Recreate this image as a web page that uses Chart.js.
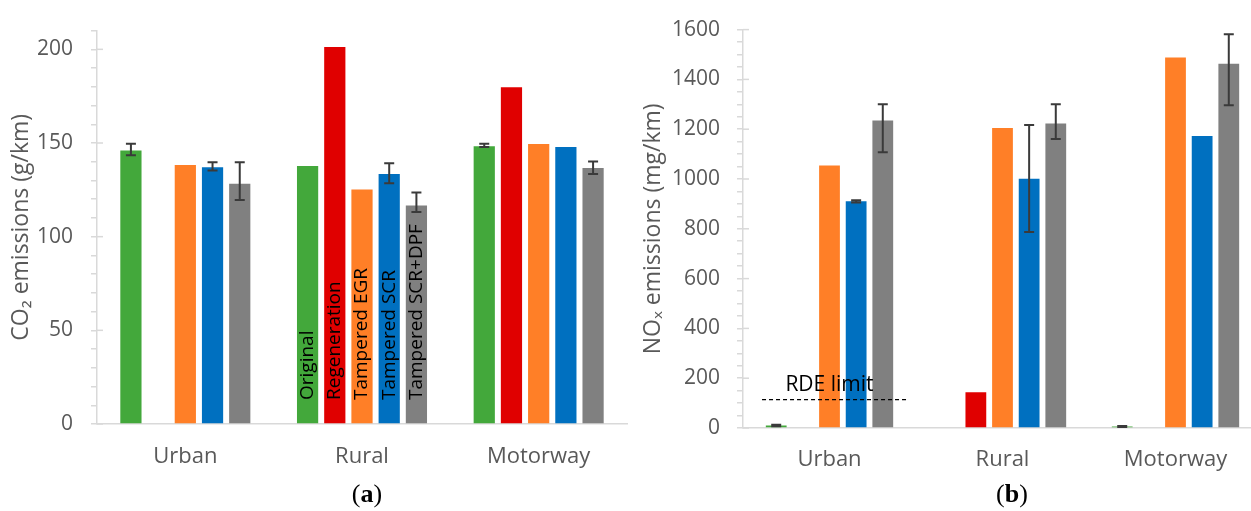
<!DOCTYPE html>
<html>
<head>
<meta charset="utf-8">
<script src="https://cdn.jsdelivr.net/npm/chart.js@4.4.1/dist/chart.umd.min.js"></script>
<style>
  html, body { margin: 0; padding: 0; background: #fff; overflow: hidden; width: 1251px; height: 511px; }
  .panel { position: absolute; top: 0; }
  .tag { position: absolute; top: 481px; font: 26px/26px "Liberation Serif", serif; color: #000; transform: translateX(-50%); }
</style>
</head>
<body>
<div class="panel" style="left:0"><canvas id="chart-co2" width="640" height="511" style="width:640px;height:511px"></canvas></div>
<div class="panel" style="left:640px"><canvas id="chart-nox" width="640" height="511" style="width:640px;height:511px"></canvas></div>
<div class="tag" style="left:367px">(<b>a</b>)</div>
<div class="tag" style="left:1012px">(<b>b</b>)</div>
<script>
//
// Data
//

var categories = ["Urban", "Rural", "Motorway"];
var seriesNames = ["Original", "Regeneration", "Tampered EGR", "Tampered SCR", "Tampered SCR+DPF"];

// CO2 (g/km)
var co2Original = [146, 137.7, 148.3];
var co2Regeneration = [null, 201.2, 179.7];
var co2EGR = [138.2, 125.2, 149.5];
var co2SCR = [137.1, 133.5, 147.8];
var co2SCRDPF = [128.3, 116.7, 136.6];

var co2OriginalLow = [143.4, null, 147.9];
var co2OriginalHigh = [149.6, null, 149.6];
var co2SCRLow = [135.3, 128.5, null];
var co2SCRHigh = [139.7, 139.2, null];
var co2SCRDPFLow = [119.6, 113.2, 133.5];
var co2SCRDPFHigh = [139.7, 123.6, 140.1];

var co2TickLabels = [0, 50, 100, 150, 200];

// NOx (mg/km)
var noxOriginal = [10, null, 6];
var noxRegeneration = [null, 144, null];
var noxEGR = [1054, 1205, 1488];
var noxSCR = [911, 1001, 1173];
var noxSCRDPF = [1235, 1223, 1463];

var noxOriginalLow = [7, null, 4];
var noxOriginalHigh = [13, null, 8];
var noxSCRLow = [906, 787, null];
var noxSCRHigh = [915, 1217, null];
var noxSCRDPFLow = [1107, 1161, 1296];
var noxSCRDPFHigh = [1300, 1300, 1581];

var noxTickLabels = [0, 200, 400, 600, 800, 1000, 1200, 1400, 1600];

var rdeLimit = 114;

//
// Styles
//

var seriesColors = ["#43a83b", "#e00000", "#ff7f27", "#0070c0", "#808080"];
var fontFamily = "'Open Sans', 'Noto Sans', sans-serif";
var axisGray = "#d9d9d9";
var textGray = "#595959";

//
// Plugins
//

// right-hand stubs on the major ticks
var majorTicks = {
  id: "majorTicks",
  beforeDatasetsDraw: function (chart, args, opts) {
    var y = chart.scales.y;
    var ctx = chart.ctx;
    ctx.save();
    ctx.strokeStyle = axisGray;
    ctx.lineWidth = 1.5;
    y.ticks.forEach(function (t) {
      if (opts.labels.indexOf(t.value) < 0) return;
      var py = y.getPixelForValue(t.value);
      ctx.beginPath();
      ctx.moveTo(y.right, py);
      ctx.lineTo(y.right + 6, py);
      ctx.stroke();
    });
    ctx.restore();
  }
};

// error bars from errLow / errHigh on the dataset
var errorBars = {
  id: "errorBars",
  afterDatasetsDraw: function (chart) {
    var y = chart.scales.y;
    var ctx = chart.ctx;
    ctx.save();
    ctx.strokeStyle = "#3a3a3a";
    ctx.lineWidth = 2;
    chart.data.datasets.forEach(function (ds, i) {
      if (!ds.errLow) return;
      var meta = chart.getDatasetMeta(i);
      ds.errLow.forEach(function (lo, j) {
        if (lo == null) return;
        var x = meta.data[j].x;
        var y1 = y.getPixelForValue(lo);
        var y2 = y.getPixelForValue(ds.errHigh[j]);
        ctx.beginPath();
        ctx.moveTo(x, y1); ctx.lineTo(x, y2);
        ctx.moveTo(x - 5, y1); ctx.lineTo(x + 5, y1);
        ctx.moveTo(x - 5, y2); ctx.lineTo(x + 5, y2);
        ctx.stroke();
      });
    });
    ctx.restore();
  }
};

// series names written up the Rural bars
var barNames = {
  id: "barNames",
  afterDatasetsDraw: function (chart) {
    var y = chart.scales.y;
    var ctx = chart.ctx;
    ctx.save();
    ctx.fillStyle = "#000";
    ctx.font = "19px " + fontFamily;
    ctx.textAlign = "left";
    ctx.textBaseline = "middle";
    chart.data.datasets.forEach(function (ds, i) {
      var bar = chart.getDatasetMeta(i).data[1];
      ctx.save();
      ctx.translate(bar.x, y.getPixelForValue(0) - 24);
      ctx.rotate(-Math.PI / 2);
      ctx.fillText(ds.label, 0, 0);
      ctx.restore();
    });
    ctx.restore();
  }
};

// dashed RDE limit over the Urban group
var rdeLine = {
  id: "rdeLine",
  afterDatasetsDraw: function (chart) {
    var x = chart.scales.x;
    var y = chart.scales.y;
    var ctx = chart.ctx;
    var cw = x.getPixelForValue(1) - x.getPixelForValue(0);
    var x0 = x.getPixelForValue(0);
    var py = y.getPixelForValue(rdeLimit);
    ctx.save();
    ctx.strokeStyle = "#000";
    ctx.lineWidth = 1.2;
    ctx.setLineDash([4, 3]);
    ctx.beginPath();
    ctx.moveTo(x0 - 0.39 * cw, py);
    ctx.lineTo(x0 + 0.45 * cw, py);
    ctx.stroke();
    ctx.fillStyle = "#000";
    ctx.font = "21px " + fontFamily;
    ctx.textAlign = "left";
    ctx.textBaseline = "alphabetic";
    ctx.fillText("RDE limit", x0 - 0.255 * cw, py - 9);
    ctx.restore();
  }
};

//
// Chart builder
//

function makeDatasets(values, lows, highs) {
  return values.map(function (v, i) {
    return {
      label: seriesNames[i],
      data: v,
      backgroundColor: seriesColors[i],
      errLow: lows[i],
      errHigh: highs[i]
    };
  });
}

function initChart(id, datasets, cfg, extraPlugins) {
  return new Chart(document.getElementById(id), {
    type: "bar",
    data: { labels: categories, datasets: datasets },
    options: {
      responsive: false,
      animation: false,
      layout: { padding: cfg.padding },
      datasets: { bar: { categoryPercentage: 0.77, barPercentage: 0.78 } },
      plugins: {
        legend: { display: false },
        tooltip: { enabled: false },
        majorTicks: { labels: cfg.tickLabels }
      },
      scales: {
        x: {
          grid: { display: false },
          border: { color: axisGray, width: 1.5 },
          ticks: { color: textGray, font: { family: fontFamily, size: 22 }, padding: cfg.xPad },
          afterFit: function (s) { s.height = cfg.xHeight; }
        },
        y: {
          min: 0,
          max: cfg.max,
          grid: { drawOnChartArea: false, tickLength: 6, tickColor: axisGray, lineWidth: 1.5 },
          border: { color: axisGray, width: 1.5 },
          ticks: {
            stepSize: cfg.step,
            autoSkip: false,
            color: textGray,
            padding: cfg.yPad,
            font: { family: fontFamily, size: 21 },
            callback: function (v) { return cfg.tickLabels.indexOf(v) >= 0 ? v : ""; }
          },
          title: {
            display: true,
            text: cfg.title,
            color: textGray,
            font: { family: fontFamily, size: 23 },
            padding: { top: cfg.titlePad, bottom: 0 }
          },
          afterFit: function (s) { s.width = cfg.yWidth; }
        }
      }
    },
    plugins: [majorTicks, errorBars].concat(extraPlugins)
  });
}

//
// Init charts
//

var co2Chart = initChart(
  "chart-co2",
  makeDatasets(
    [co2Original, co2Regeneration, co2EGR, co2SCR, co2SCRDPF],
    [co2OriginalLow, null, null, co2SCRLow, co2SCRDPFLow],
    [co2OriginalHigh, null, null, co2SCRHigh, co2SCRDPFHigh]
  ),
  {
    padding: { left: 0, top: 21, right: 13, bottom: 27 },
    max: 210, step: 10, tickLabels: co2TickLabels,
    title: "CO\u2082 emissions (g/km)", titlePad: 8,
    yWidth: 97, yPad: 18, xHeight: 60, xPad: 12
  },
  [barNames]
);

var noxChart = initChart(
  "chart-nox",
  makeDatasets(
    [noxOriginal, noxRegeneration, noxEGR, noxSCR, noxSCRDPF],
    [noxOriginalLow, null, null, noxSCRLow, noxSCRDPFLow],
    [noxOriginalHigh, null, null, noxSCRHigh, noxSCRDPFHigh]
  ),
  {
    padding: { left: 0, top: 25, right: 18, bottom: 27 },
    max: 1600, step: 50, tickLabels: noxTickLabels,
    title: "NO\u2093 emissions (mg/km)", titlePad: 0,
    yWidth: 103, yPad: 17, xHeight: 56, xPad: 11
  },
  [rdeLine]
);
</script>
</body>
</html>
